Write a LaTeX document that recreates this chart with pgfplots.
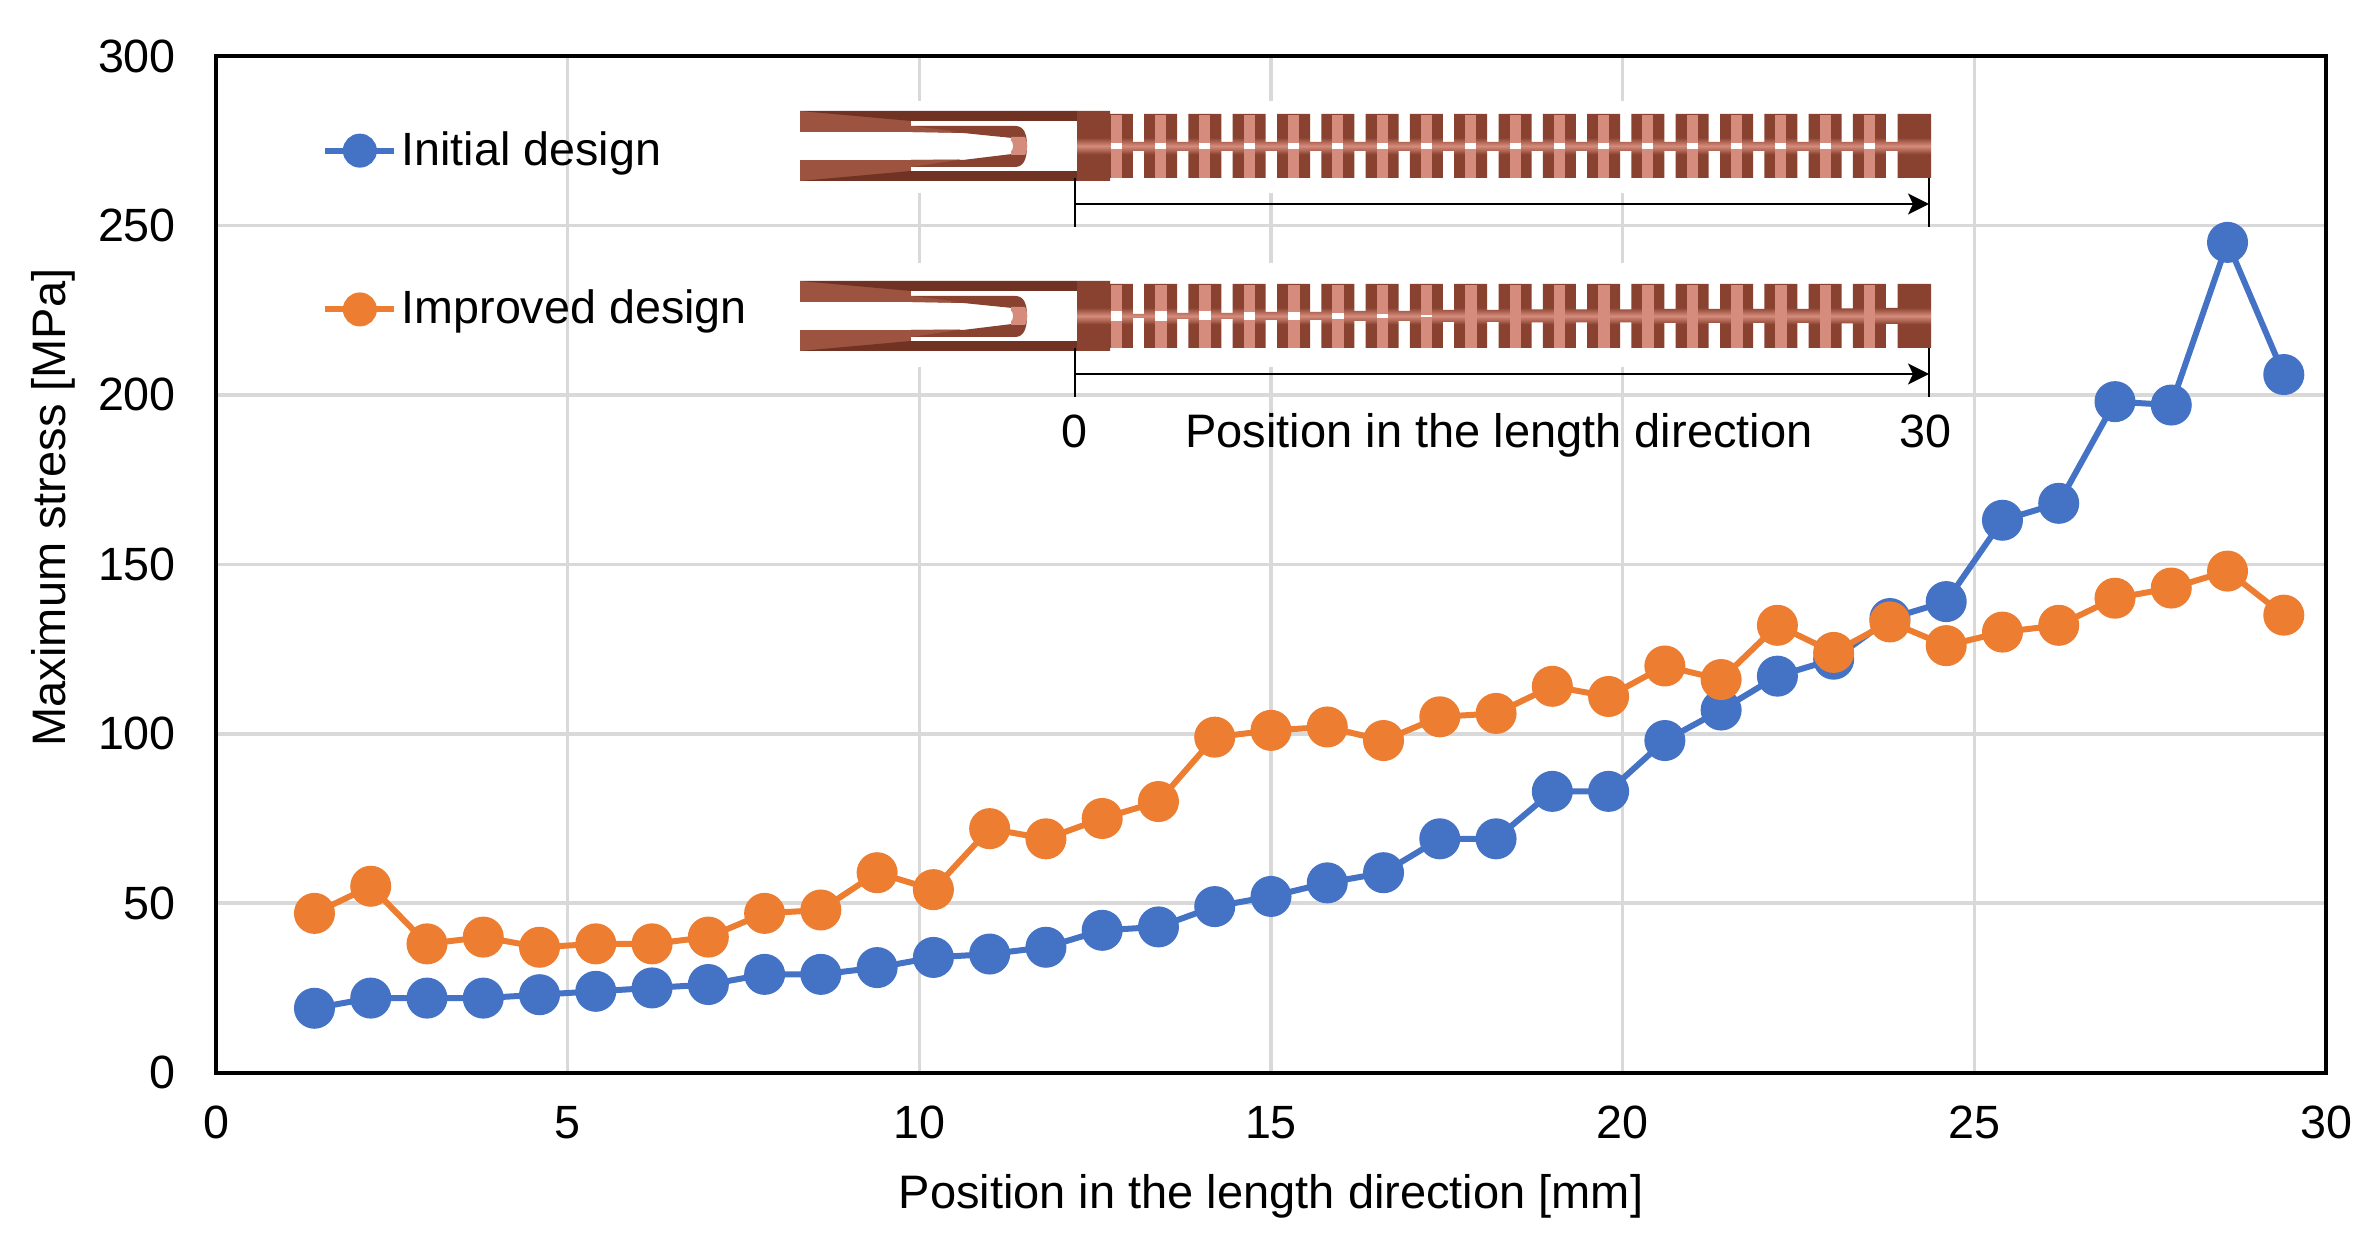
\documentclass[border=0pt]{standalone}
\usepackage{fontspec}
\setmainfont{Liberation Sans}
\usepackage{pgfplots}
\usepackage{pgfplotstable}
\pgfplotsset{compat=1.18}
\usetikzlibrary{arrows.meta}

\definecolor{serA}{HTML}{4472C4}
\definecolor{serB}{HTML}{ED7D31}
\definecolor{gridc}{HTML}{D9D9D9}
\definecolor{tdark}{HTML}{6B2F20}
\definecolor{tmid}{HTML}{8A4230}
\definecolor{tlight}{HTML}{D68C7C}
\definecolor{twedge}{HTML}{9C5340}

\pgfdeclareverticalshading{tube}{100bp}{
  color(0bp)=(tdark); color(12bp)=(tmid); color(44bp)=(tmid);
  color(50bp)=(tlight); color(56bp)=(tmid); color(88bp)=(tmid); color(100bp)=(tdark)}

\pgfplotstableread{
pos  initial improved
1.4  19  47
2.2  22  55
3.0  22  38
3.8  22  40
4.6  23  37
5.4  24  38
6.2  25  38
7.0  26  40
7.8  29  47
8.6  29  48
9.4  31  59
10.2 34  54
11.0 35  72
11.8 37  69
12.6 42  75
13.4 43  80
14.2 49  99
15.0 52  101
15.8 56  102
16.6 59  98
17.4 69  105
18.2 69  106
19.0 83  114
19.8 83  111
20.6 98  120
21.4 107 116
22.2 117 132
23.0 122 124
23.8 134 133
24.6 139 126
25.4 163 130
26.2 168 132
27.0 198 140
27.8 197 143
28.6 245 148
29.4 206 135
}\stressdata

% left end of the tube, in image pixels
\newcommand{\tubehead}{
  \fill[twedge] (800,111) rectangle (911,181);
  \fill[tdark!85!tmid] (800,111) -- (911,121) -- (1077,121) -- (1077,111) -- cycle;
  \fill[tdark!85!tmid] (800,181) -- (911,171) -- (1077,171) -- (1077,181) -- cycle;
  \fill[white] (911,121) rectangle (1077,171);
  \fill[white] (800,132) rectangle (912,160);
  \fill[tmid] (911,126) -- (1015,126) .. controls (1023,126) and (1027,132) .. (1027,146)
     .. controls (1027,160) and (1023,167) .. (1015,167) -- (911,167) -- (911,160)
     -- (963,160) -- (1012,154) -- (1012,138) -- (963,133) -- (911,132) -- cycle;
  \fill[twedge] (911,126) -- (945,130) -- (960,132.5) -- (911,132) -- cycle;
  \fill[twedge] (911,167) -- (945,162) -- (960,159.5) -- (911,160) -- cycle;
  \fill[tlight] (1011,137) -- (1025,137) .. controls (1028,142) and (1028,150) .. (1025,155)
     -- (1011,155) -- cycle;
  \fill[white] (1000,137) .. controls (1010,138) and (1013,141) .. (1013,146)
     .. controls (1013,151) and (1010,154) .. (1000,155) -- cycle;
}

\begin{document}
\begin{tikzpicture}
\path[use as bounding box] (0,0) rectangle (712.2pt,373.8pt);
\begin{axis}[
    at={(64.8pt,52pt)},
    anchor=south west,
    scale only axis,
    width=633pt,
    height=305pt,
    xmin=0, xmax=30,
    ymin=0, ymax=300,
    xtick={0,5,...,30},
    ytick={0,50,...,300},
    major tick length=0pt,
    grid=major,
    grid style={gridc, line width=1.05pt},
    axis line style={line width=1.2pt},
    /pgf/number format/assume math mode=true,
    tick label style={font=\fontsize{14}{16}\selectfont},
    xticklabel style={yshift=-6.5pt},
    yticklabel style={xshift=-8.5pt},
    xlabel={Position in the length direction [mm]},
    ylabel={Maximum stress [MPa]},
    every axis x label/.style={at={(axis description cs:0.5,-0.1215)},anchor=center,font=\fontsize{14.1}{16}\selectfont},
    every axis y label/.style={at={(axis description cs:-0.077,0.556)},anchor=center,rotate=90,font=\fontsize{14.1}{16}\selectfont},
    legend style={at={(0.0501,0.8288)}, anchor=west, draw=none, fill=none, inner sep=0pt,
       font=\fontsize{14}{16}\selectfont, row sep=36pt,
       nodes={inner xsep=1.3pt, inner ysep=0pt}},
    legend cell align=left,
    legend image code/.code={
       \draw[mark repeat=2,mark phase=2,#1,mark size=4.2pt] plot coordinates {(0pt,0pt)(10.35pt,0pt)(20.7pt,0pt)};},
    every axis plot/.append style={line width=1.8pt, mark=*, mark size=5.25pt},
]
\addplot[serA, mark options={fill=serA, draw=none}] table[x=pos,y=initial] {\stressdata};
\addplot[serB, mark options={fill=serB, draw=none}] table[x=pos,y=improved] {\stressdata};
\legend{Initial design, Improved design}
\end{axis}

% inset sketch of the two designs, in image pixels
\begin{scope}[x=0.3pt,y=-0.3pt,yshift=373.8pt]
\fill[white] (799,101) rectangle (1940,193);
\fill[white] (799,263) rectangle (1940,367);

% initial design
\tubehead
\shade[shading=tube] (1077,111) rectangle (1110,181)
  \foreach \i [evaluate=\i as \s using 1099.8+44.3*\i] in {0,...,17} {
    (\s,114) rectangle (\s+33,178) (\s+33,142) rectangle (\s+45,151) }
  (1897.5,114) rectangle (1931,178);
\foreach \i [evaluate=\i as \s using 1099.8+44.3*\i] in {0,...,17} {
  \fill[tlight] (\s+11,115) rectangle (\s+22,178);
  \fill[white] (\s+11,143) rectangle (\s+22,149.5);
}

% improved design
\begin{scope}[shift={(0,170)}]
\tubehead
\shade[shading=tube] (1077,111) rectangle (1110,181)
  \foreach \i/\h [evaluate=\i as \s using 1099.8+44.3*\i] in
    {0/2,1/3,2/3,3/4,4/4,5/5,6/5,7/6,8/6,9/6.5,10/6.5,11/6.5,12/7,13/7,14/7,15/7,16/7.5,17/8} {
    (\s,114) rectangle (\s+33,178) (\s+33,146-\h) rectangle (\s+45,146+\h) }
  (1897.5,114) rectangle (1931,178);
\foreach \i [evaluate=\i as \s using 1099.8+44.3*\i] in {0,...,17} {
  \fill[tlight] (\s+11,115) rectangle (\s+22.5,178);
}
\foreach \i/\h [evaluate=\i as \s using 1099.8+44.3*\i] in {0/5,1/5,2/4.5,3/4,4/4,5/3,6/2,7/1} {
  \fill[white] (\s+11,146-\h) rectangle (\s+22.5,146+\h);
}
\end{scope}

% dimension arrows
\draw[line width=0.6pt] (1075,178) -- (1075,227) (1929,178) -- (1929,227);
\draw[line width=0.6pt,-{Stealth[length=6.3pt,width=6.3pt,inset=1.5pt]}] (1075,204) -- (1929,204);
\draw[line width=0.6pt] (1075,348) -- (1075,397) (1929,348) -- (1929,397);
\draw[line width=0.6pt,-{Stealth[length=6.3pt,width=6.3pt,inset=1.5pt]}] (1075,374) -- (1929,374);

\node[font=\fontsize{14}{16}\selectfont] at (1074,431) {0};
\node[font=\fontsize{14.1}{16}\selectfont] at (1499,435) {Position in the length direction};
\node[font=\fontsize{14}{16}\selectfont] at (1925,431) {30};
\end{scope}
\end{tikzpicture}
\end{document}
